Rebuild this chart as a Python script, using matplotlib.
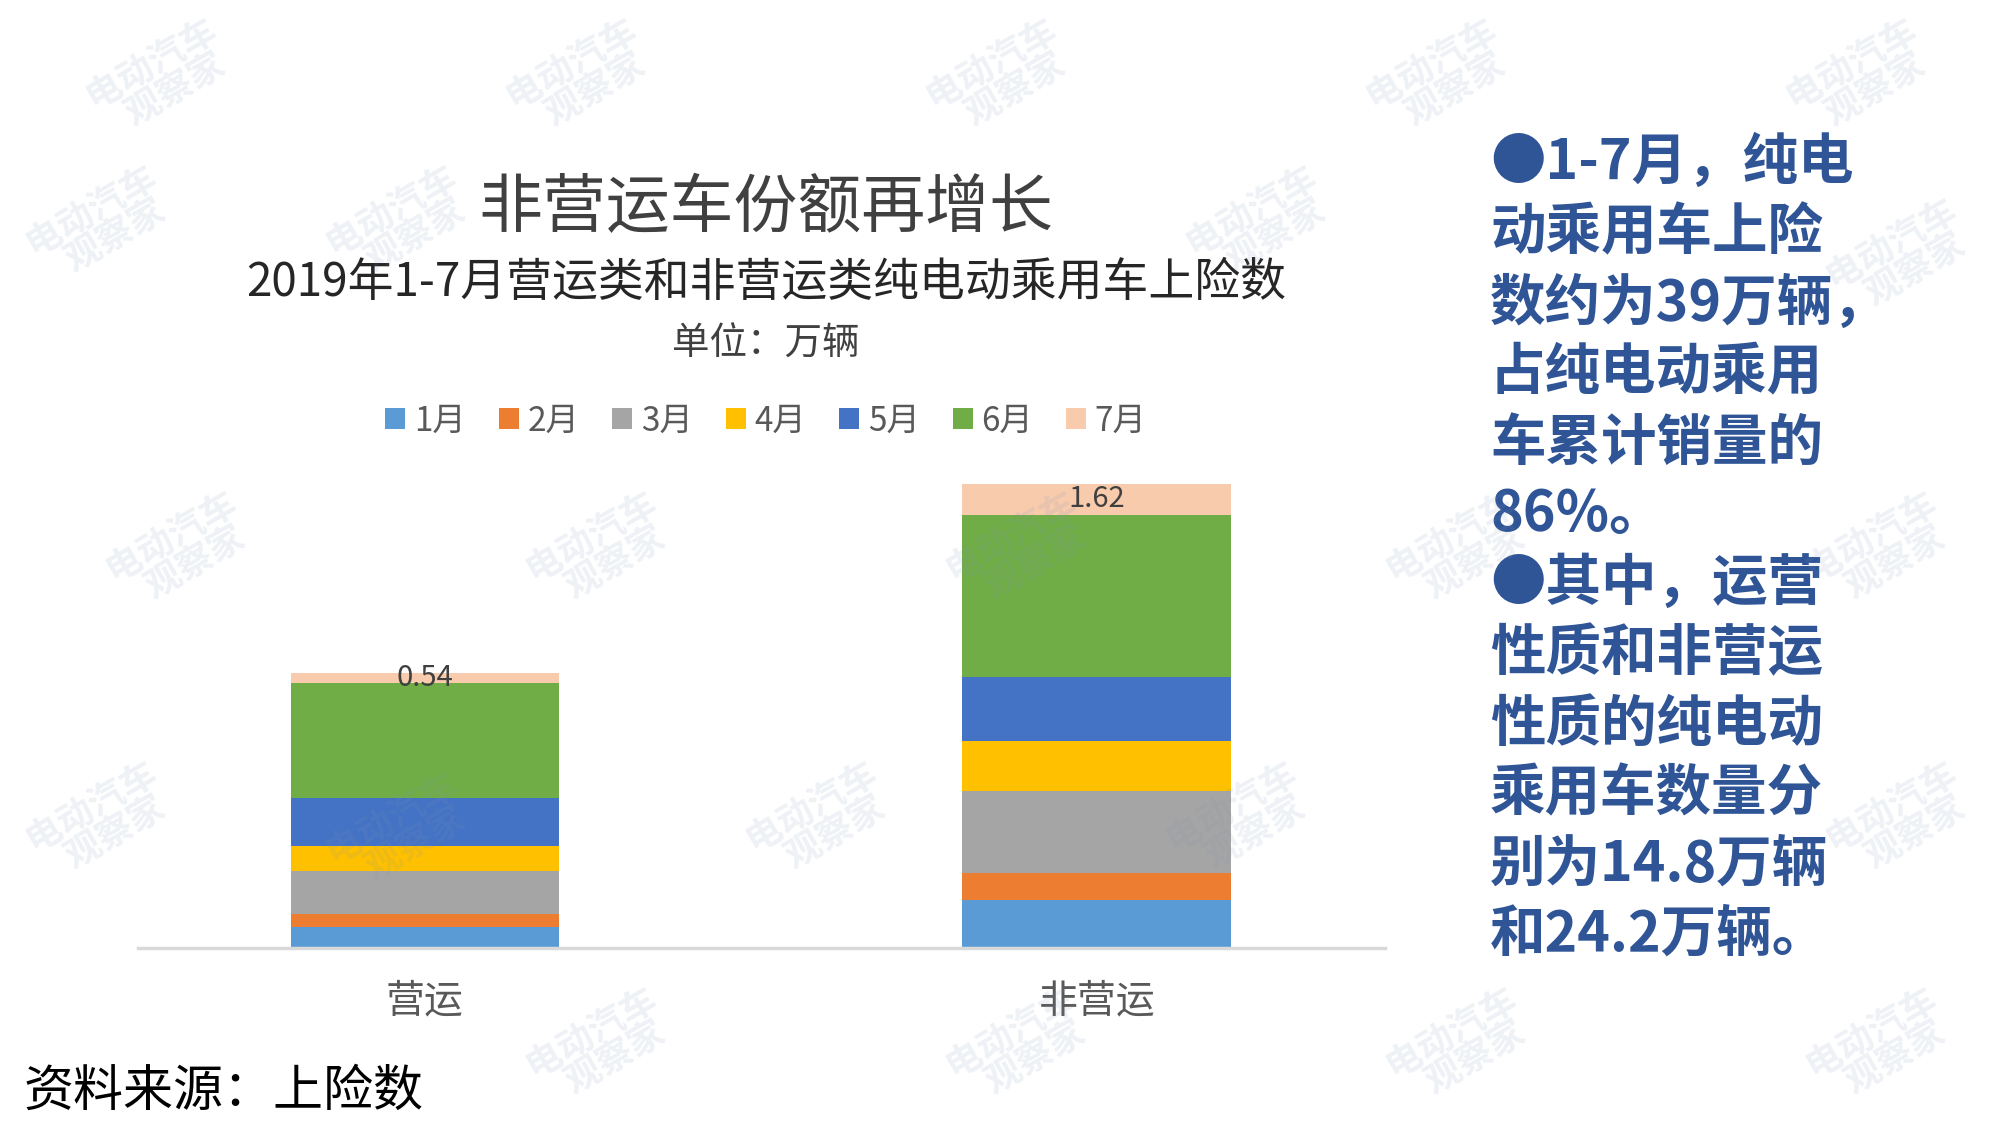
import matplotlib.pyplot as plt
from matplotlib.patches import Patch

plt.rcParams['font.family'] = ['Noto Sans CJK SC', 'DejaVu Sans']

# 数据（万辆）
categories = ['营运', '非营运']
months = ['1月', '2月', '3月', '4月', '5月', '6月', '7月']
values = {
    '1月': [1.10, 2.49],
    '2月': [0.70, 1.43],
    '3月': [2.21, 4.27],
    '4月': [1.34, 2.62],
    '5月': [2.49, 3.36],
    '6月': [6.01, 8.49],
    '7月': [0.54, 1.62],
}
colors = ['#5B9BD5', '#ED7D31', '#A5A5A5', '#FFC000', '#4472C4', '#70AD47', '#F8CBAD']

side_lines = [
    '●1-7月，纯电',
    '动乘用车上险',
    '数约为39万辆，',
    '占纯电动乘用',
    '车累计销量的',
    '86%。',
    '●其中，运营',
    '性质和非营运',
    '性质的纯电动',
    '乘用车数量分',
    '别为14.8万辆',
    '和24.2万辆。',
]

fig = plt.figure(figsize=(20, 11.26), dpi=100)

ax = fig.add_axes([0.069, 0.158, 0.6235, 0.451])
ax.patch.set_alpha(0)
x = [0, 1]
bottom = [0.0, 0.0]
for m, c in zip(months, colors):
    ax.bar(x, values[m], bottom=bottom, width=0.4, color=c, zorder=2)
    bottom = [b + v for b, v in zip(bottom, values[m])]

# 7月数据标签
last = values['7月']
for i in range(len(categories)):
    ax.text(x[i], bottom[i] - last[i] / 2, f'{last[i]:.2f}', ha='center', va='center',
            fontsize=21, color='#404040', zorder=3)

ax.set_xlim(-0.427, 1.429)
ax.set_ylim(0, 26.55)
ax.set_xticks(x)
ax.set_xticklabels(categories, fontsize=28, color='#595959')
ax.tick_params(axis='x', length=0, pad=24)
ax.set_yticks([])
for s in ['top', 'right', 'left']:
    ax.spines[s].set_visible(False)
ax.spines['bottom'].set_color('#D9D9D9')
ax.spines['bottom'].set_linewidth(2.5)

# 标题
fig.text(0.383, 0.815, '非营运车份额再增长', ha='center', va='center', fontsize=46, color='#404040')
fig.text(0.383, 0.749, '2019年1-7月营运类和非营运类纯电动乘用车上险数', ha='center', va='center',
         fontsize=33, color='#262626')
fig.text(0.383, 0.694, '单位：万辆', ha='center', va='center', fontsize=27, color='#404040')

handles = [Patch(facecolor=c, edgecolor='none') for c in colors]
fig.legend(handles, months, loc='center', bbox_to_anchor=(0.383, 0.626), ncol=7, frameon=False,
           fontsize=24, handlelength=0.6, handleheight=0.6, handletextpad=0.25,
           columnspacing=1.0, labelcolor='#595959')

# 右侧说明
for i, line in enumerate(side_lines):
    fig.text(0.745, 0.855 - i * 0.0623, line, ha='left', va='center', fontsize=40,
             fontweight='bold', color='#2F5597')

fig.text(0.012, 0.03, '资料来源：上险数', ha='left', va='center', fontsize=36, color='#000000')

# 水印
wm_pos = [(0.08, 0.93), (0.29, 0.93), (0.50, 0.93), (0.72, 0.93), (0.93, 0.93),
          (0.05, 0.80), (0.20, 0.80), (0.63, 0.80), (0.95, 0.77),
          (0.09, 0.51), (0.30, 0.51), (0.51, 0.51), (0.73, 0.51), (0.94, 0.51),
          (0.05, 0.27), (0.20, 0.26), (0.41, 0.27), (0.62, 0.27), (0.95, 0.27),
          (0.30, 0.07), (0.51, 0.07), (0.73, 0.07), (0.94, 0.07)]
for px, py in wm_pos:
    fig.text(px, py, '电动汽车\n  观察家', fontsize=26, fontweight='bold', color='#7F93B0',
             alpha=0.13, rotation=30, ha='center', va='center', linespacing=0.9, zorder=5)

fig.savefig('out.png', dpi=100, facecolor='white')
